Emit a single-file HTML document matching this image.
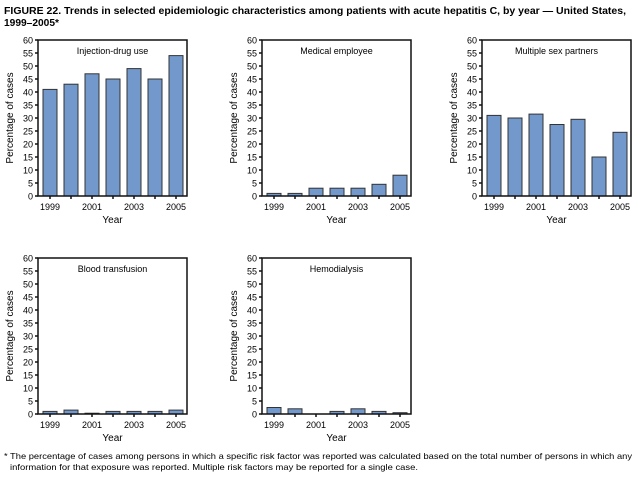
<!DOCTYPE html>
<html><head><meta charset="utf-8"><style>
html,body{margin:0;padding:0;background:#fff;}
svg{display:block;font-family:"Liberation Sans",Arial,sans-serif;}
</style></head><body>
<svg id="s" width="640" height="478" viewBox="0 0 640 478" xmlns="http://www.w3.org/2000/svg">
<text x="4" y="14" font-size="10.5" font-weight="bold" textLength="622" lengthAdjust="spacingAndGlyphs">FIGURE 22. Trends in selected epidemiologic characteristics among patients with acute hepatitis C, by year — United States,</text>
<text x="4" y="26" font-size="10.5" font-weight="bold" textLength="55" lengthAdjust="spacingAndGlyphs">1999–2005*</text>
<text x="4" y="459" font-size="8.5" textLength="628" lengthAdjust="spacingAndGlyphs">* The percentage of cases among persons in which a specific risk factor was reported was calculated based on the total number of persons in which any</text>
<text x="10" y="470" font-size="8.5" textLength="408" lengthAdjust="spacingAndGlyphs">information for that exposure was reported. Multiple risk factors may be reported for a single case.</text>
</svg>
<script>
var s=document.getElementById('s'),NS='http://www.w3.org/2000/svg';
function el(t,a,txt){var e=document.createElementNS(NS,t);for(var k in a)e.setAttribute(k,a[k]);if(txt!=null)e.textContent=txt;s.appendChild(e);return e;}
var panels=[
 [38,40,"Injection-drug use",[41,43,47,45,49,45,54]],
 [262,40,"Medical employee",[1,1,3,3,3,4.5,8]],
 [482,40,"Multiple sex partners",[31,30,31.5,27.5,29.5,15,24.5]],
 [38,258,"Blood transfusion",[1,1.5,0.3,1,1,1,1.5]],
 [262,258,"Hemodialysis",[2.5,2,0,1,2,1,0.5]]];
panels.forEach(function(p){
 var x0=p[0],y0=p[1],w=149,h=156,b=y0+h,u=h/60;
 p[3].forEach(function(v,i){ if(v<=0)return;
  var bx=x0+5+i*21,bh=v*u;
  el('rect',{x:bx,y:b-bh,width:14,height:bh,fill:'#7398cc',stroke:'#333','stroke-width':1});
 });
 el('rect',{x:x0,y:y0,width:w,height:h,fill:'none',stroke:'#111','stroke-width':1.5});
 for(var v=0;v<=60;v+=5){var y=b-v*u;
  el('line',{x1:x0-3,y1:y,x2:x0,y2:y,stroke:'#111','stroke-width':1.5});
  el('text',{x:x0-5,y:y+3.5,'font-size':9,'text-anchor':'end'},v);}
 for(var i=0;i<7;i++){var cx=x0+12+i*21;
  el('line',{x1:cx,y1:b,x2:cx,y2:b+3,stroke:'#111','stroke-width':1.5});
  if(i%2==0)el('text',{x:cx,y:b+14,'font-size':9,'text-anchor':'middle'},1999+i);}
 el('text',{x:x0+w/2,y:b+27,'font-size':10,'text-anchor':'middle'},'Year');
 el('text',{x:x0+w/2,y:y0+14,'font-size':9,'text-anchor':'middle'},p[2]);
 el('text',{x:0,y:0,'font-size':10,'text-anchor':'middle',transform:'translate('+(x0-25)+','+(y0+h/2)+') rotate(-90)'},'Percentage of cases');
});
</script>
</body></html>
